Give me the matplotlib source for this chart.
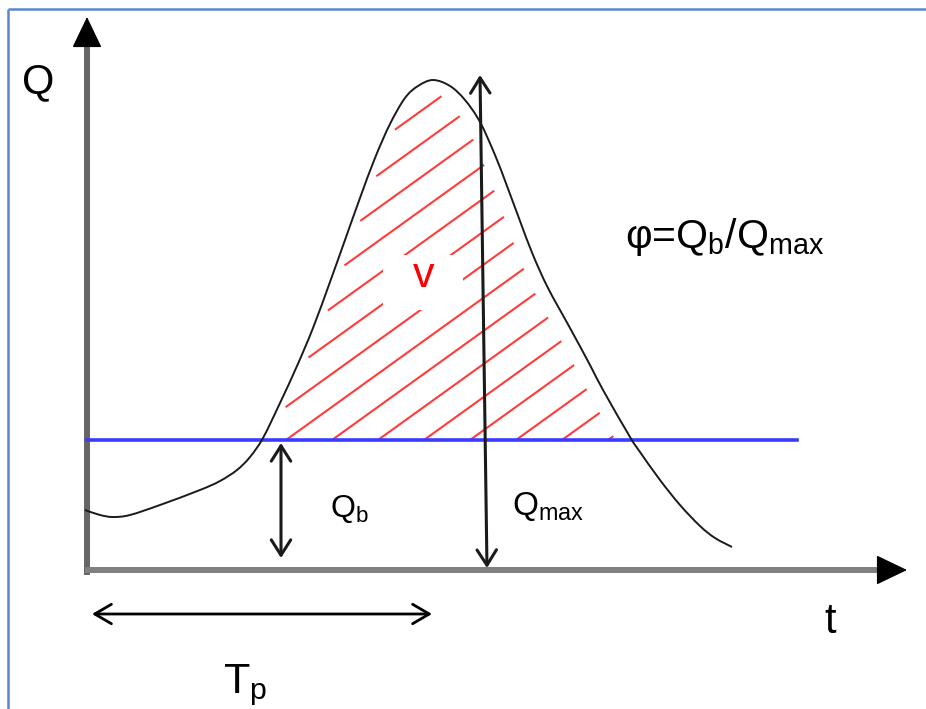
import numpy as np
import matplotlib
matplotlib.use("Agg")
import matplotlib.pyplot as plt
from matplotlib.patches import Rectangle, PathPatch
from matplotlib.path import Path

plt.rcParams['font.family'] = ['Liberation Sans', 'DejaVu Sans']
plt.rcParams['mathtext.fontset'] = 'custom'
plt.rcParams['mathtext.rm'] = 'Liberation Sans'
plt.rcParams['mathtext.it'] = 'Liberation Sans:italic'

# ---- data (t, Q in diagram units; origin at the axes crossing) ----
curve_t = [-2, 13, 26, 43, 73, 113, 133, 150, 163, 176, 193, 210, 226, 243, 258,
           273, 288, 303, 318, 331, 346, 363, 378, 393, 408, 420, 433, 446, 461,
           483, 503, 516, 543, 553, 573, 593, 613, 628, 645]
curve_Q = [60, 55, 53, 55, 65, 80, 89, 100, 113, 132, 167, 204, 242, 288, 330,
           372, 412, 446, 472, 484, 490, 484, 470, 448, 415, 384, 349, 315, 282,
           242, 205, 180, 133, 118, 90, 65, 44, 32, 23]
Qb_level = 130          # blue base-flow line
Qb_line_end = 710
Qb_arrow_t = 194
Qmax_arrow = [(400, 2), (393, 495)]
Tp_range = [5, 345]
Tp_level = -44
t_axis_end = 820
Q_axis_end = 553

labels = {
    'Q': 'Q', 't': 't', 'Tp': r'$\mathrm{T_p}$', 'v': 'v',
    'Qb': r'$\mathrm{Q_b}$', 'Qmax': r'$\mathrm{Q_{max}}$',
    'phi': r'φ=$\mathrm{Q_b}$/$\mathrm{Q_{max}}$',
}

fig = plt.figure(figsize=(9.26, 7.09), dpi=100)
ax = fig.add_axes([0, 0, 1, 1])
ax.set_xlim(-87, 839)
ax.set_ylim(-139, 570)
ax.axis('off')

# frame (top and left visible)
ax.plot([-79, 900], [561, 561], color='#5a86d4', lw=1.8, solid_capstyle='butt')
ax.plot([-79, -79], [561, -200], color='#5a86d4', lw=1.8, solid_capstyle='butt')

# axes
ax.plot([0, 0], [-5, Q_axis_end - 28], color='#666666', lw=4.3, solid_capstyle='butt', zorder=3)
ax.plot([-2, t_axis_end - 26], [0, 0], color='#808080', lw=4.3, solid_capstyle='butt', zorder=3)
head = dict(arrowstyle='-|>,head_length=1.0,head_width=0.48', mutation_scale=20,
            color='black', shrinkA=0, shrinkB=0)
ax.annotate('', xy=(0, Q_axis_end), xytext=(0, Q_axis_end - 27), arrowprops=head, zorder=4)
ax.annotate('', xy=(t_axis_end, 0), xytext=(t_axis_end - 25, 0), arrowprops=head, zorder=4)

# curve drawn as a smooth Catmull-Rom (cubic Bezier) path through the points
ct = np.array(curve_t, float)
cq = np.array(curve_Q, float)
P = np.column_stack([ct, cq])
Pe = np.vstack([P[0], P, P[-1]])
verts = [tuple(P[0])]
codes = [Path.MOVETO]
for i in range(1, len(Pe) - 2):
    p0, p1, p2, p3 = Pe[i - 1], Pe[i], Pe[i + 1], Pe[i + 2]
    c1 = p1 + (p2 - p0) / 6.0
    c2 = p2 - (p3 - p1) / 6.0
    verts += [tuple(c1), tuple(c2), tuple(p2)]
    codes += [Path.CURVE4] * 3
curve_path = Path(verts, codes)
ax.add_patch(PathPatch(curve_path, facecolor='none', edgecolor='#1a1a1a', lw=1.4, zorder=5))

# sampled smooth curve for hatch clipping
poly = curve_path.to_polygons(closed_only=False)[0]
order = np.argsort(poly[:, 0])
sm_t, sm_q = poly[order, 0], poly[order, 1]

# base line
ax.plot([0, Qb_line_end], [Qb_level, Qb_level], color='#3b3bff', lw=2.6, zorder=4)

# hatch lines (between base line and curve, small gap to the curve)
slope = 0.72
spacing = 46
gap = 14 / np.sqrt(1 + slope ** 2)
tt = np.linspace(ct.min(), ct.max(), 5000)
cc = np.interp(tt, sm_t, sm_q)
for k in range(-12, 12):
    ti = 199 + spacing * k
    line = Qb_level + slope * (tt - ti)
    m = (line >= Qb_level) & (line <= cc)
    if not m.any():
        continue
    idx = np.where(m)[0]
    t0, t1 = tt[idx[0]], tt[idx[-1]]
    if np.interp(ti, sm_t, sm_q) > Qb_level and abs(t0 - ti) < 2:
        t0 = ti
    else:
        t0 = t0 + gap
    t1 = t1 - gap
    if t1 <= t0:
        continue
    ax.plot([t0, t1], [Qb_level + slope * (t0 - ti), Qb_level + slope * (t1 - ti)],
            color='#ff3b3b', lw=1.5, zorder=2, solid_capstyle='butt')

# white box behind v
v_pos = (337, 283)
ax.add_patch(Rectangle((v_pos[0] - 41, v_pos[1] - 23), 80, 55, facecolor='white',
                       edgecolor='none', zorder=2.5))
ax.text(v_pos[0], v_pos[1], labels['v'], color='red', fontsize=31, ha='center',
        va='baseline', zorder=6)

# double arrows
darrow = dict(arrowstyle='<->,head_length=0.55,head_width=0.35', mutation_scale=20,
              color='#1a1a1a', lw=2.2, shrinkA=0, shrinkB=0)
ax.annotate('', xy=(Qb_arrow_t, 12), xytext=(Qb_arrow_t, Qb_level - 3), arrowprops=darrow, zorder=6)
ax.annotate('', xy=Qmax_arrow[0], xytext=Qmax_arrow[1], arrowprops=darrow, zorder=6)
tarrow = dict(arrowstyle='<->,head_length=0.6,head_width=0.35', mutation_scale=20,
              color='black', lw=2.0, shrinkA=0, shrinkB=0)
ax.annotate('', xy=(Tp_range[0], Tp_level), xytext=(Tp_range[1], Tp_level), arrowprops=tarrow,
            annotation_clip=False)

# texts
ax.text(-65, 477, labels['Q'], fontsize=30, ha='left', va='baseline')
ax.text(743, -63, labels['t'], fontsize=30, ha='center', va='baseline')
ax.text(136, -123, labels['Tp'], fontsize=31, ha='left', va='baseline')
ax.text(538, 322, labels['phi'], fontsize=29.5, ha='left', va='baseline')
ax.text(243, 53, labels['Qb'], fontsize=23, ha='left', va='baseline')
ax.text(425, 55, labels['Qmax'], fontsize=24, ha='left', va='baseline')

fig.savefig('out.png', dpi=100, facecolor='white')
